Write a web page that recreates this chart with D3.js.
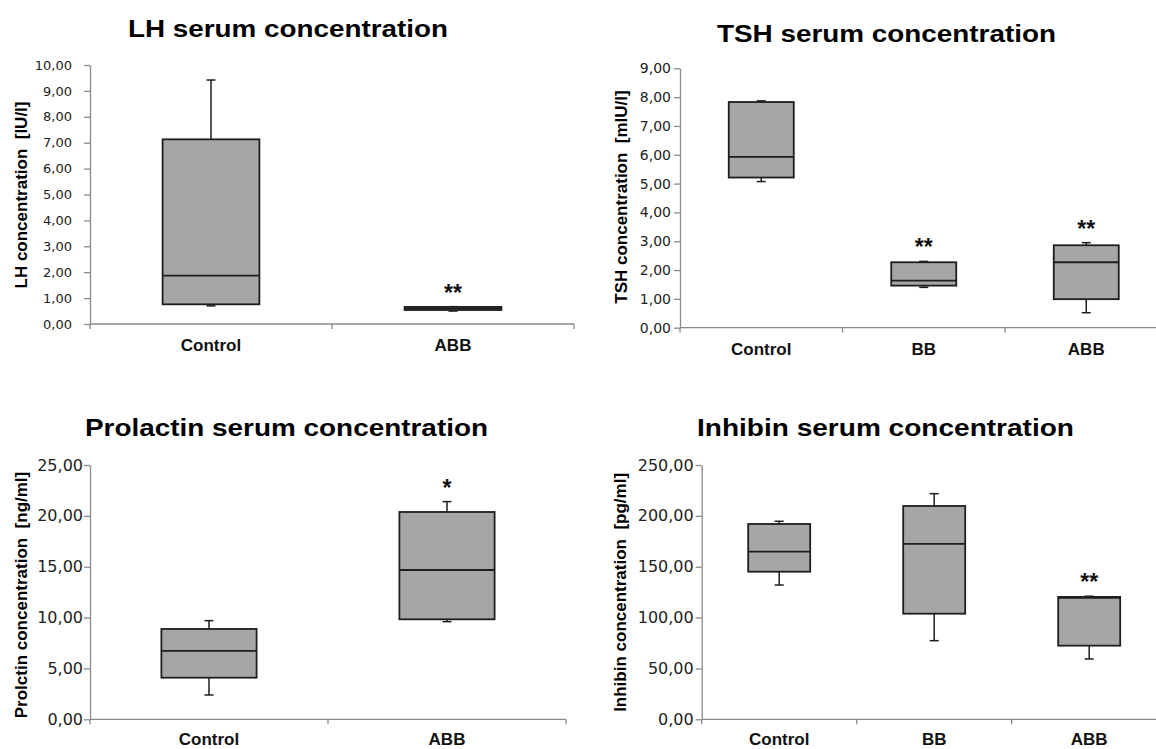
<!DOCTYPE html>
<html>
<head>
<meta charset="utf-8">
<script src="https://cdn.jsdelivr.net/npm/d3@7"></script>
<style>
  body { margin: 0; background: #fff; }
  text { white-space: pre; }
</style>
</head>
<body>
<div id="chart"></div>
<script>
// box stats per group: [min, q1, median, q3, max]
var lhGroups = ["Control", "ABB"];
var lhStats = [[0.70, 0.76, 1.87, 7.13, 9.42], [0.50, 0.54, 0.60, 0.66, 0.67]];
var lhStars = ["", "**"];
var lhTicks = [0, 1, 2, 3, 4, 5, 6, 7, 8, 9, 10];

var tshGroups = ["Control", "BB", "ABB"];
var tshStats = [[5.07, 5.21, 5.93, 7.83, 7.87], [1.40, 1.46, 1.63, 2.27, 2.30], [0.52, 0.99, 2.27, 2.86, 2.95]];
var tshStars = ["", "**", "**"];
var tshTicks = [0, 1, 2, 3, 4, 5, 6, 7, 8, 9];

var prlGroups = ["Control", "ABB"];
var prlStats = [[2.39, 4.09, 6.72, 8.88, 9.70], [9.60, 9.83, 14.68, 20.38, 21.40]];
var prlStars = ["", "*"];
var prlTicks = [0, 5, 10, 15, 20, 25];

var inhGroups = ["Control", "BB", "ABB"];
var inhStats = [[132.0, 145.1, 164.8, 192.0, 194.7], [77.3, 103.8, 172.4, 209.7, 221.8], [59.3, 72.4, 119.5, 120.3, 121.0]];
var inhStars = ["", "", "**"];
var inhTicks = [0, 50, 100, 150, 200, 250];

var svgWidth = 1156;
var svgHeight = 749;

var svg = d3.select("#chart")
  .append("svg")
  .attr("width", svgWidth)
  .attr("height", svgHeight);

var locale = d3.formatLocale({decimal: ",", thousands: ".", grouping: [3], currency: ["", ""]});
var fmt = locale.format(".2f");

var panels = [
  {title: "LH serum concentration", ylabel: "LH concentration  [IU/l]", groups: lhGroups, stats: lhStats, stars: lhStars, ticks: lhTicks,
   x0: 90, band: 242, yTop: 65, yZero: 324, titleX: 288, titleY: 37, titleW: 320, labX: 27, labY: 195, catY: 351, pad: 12, tickFont: 13},
  {title: "TSH serum concentration", ylabel: "TSH concentration  [mIU/l]", groups: tshGroups, stats: tshStats, stars: tshStars, ticks: tshTicks,
   x0: 680, band: 162.5, yTop: 68.3, yZero: 327.7, titleX: 886.5, titleY: 41.5, titleW: 339, labX: 626.5, labY: 197, catY: 355, pad: 3, tickFont: 14},
  {title: "Prolactin serum concentration", ylabel: "Prolctin concentration  [ng/ml]", groups: prlGroups, stats: prlStats, stars: prlStars, ticks: prlTicks,
   x0: 90, band: 238, yTop: 465, yZero: 719.3, titleX: 286.5, titleY: 436, titleW: 403, labX: 26.5, labY: 595, catY: 745, pad: 1, tickFont: 16},
  {title: "Inhibin serum concentration", ylabel: "Inhibin concentration  [pg/ml]", groups: inhGroups, stats: inhStats, stars: inhStars, ticks: inhTicks,
   x0: 701.7, band: 155, yTop: 465, yZero: 719.3, titleX: 885.5, titleY: 436, titleW: 377, labX: 626, labY: 592.4, catY: 745, pad: 2, tickFont: 16}
];

var axisColor = "#8a8a8a";
var lineColor = "#1e1e1e";

panels.forEach(function(p) {
  var g = svg.append("g");

  var x = d3.scaleBand()
    .domain(p.groups)
    .range([p.x0, p.x0 + p.band * p.groups.length])
    .paddingInner(0)
    .paddingOuter(0);

  var y = d3.scaleLinear()
    .domain([0, d3.max(p.ticks)])
    .range([p.yZero, p.yTop]);

  // y axis
  var yAxis = g.append("g")
    .attr("transform", `translate(${p.x0}, 0)`)
    .call(d3.axisLeft(y).tickValues(p.ticks).tickFormat(fmt).tickSizeInner(6).tickSizeOuter(0).tickPadding(p.pad));
  yAxis.select(".domain").attr("stroke", axisColor).attr("stroke-width", 1.3);
  yAxis.selectAll(".tick line").attr("stroke", axisColor).attr("stroke-width", 1.3);
  yAxis.selectAll(".tick text")
    .attr("fill", "#222")
    .attr("font-family", "DejaVu Sans")
    .attr("font-size", p.tickFont);

  // x axis: baseline with ticks at group boundaries
  var bounds = p.groups.map(function(d) { return x(d); }).concat([x.range()[1]]);
  g.append("line")
    .attr("x1", x.range()[0]).attr("x2", x.range()[1])
    .attr("y1", y(0)).attr("y2", y(0))
    .attr("stroke", axisColor).attr("stroke-width", 1.3);
  g.selectAll(".xtick")
    .data(bounds)
    .enter()
    .append("line")
    .attr("x1", d => d).attr("x2", d => d)
    .attr("y1", y(0)).attr("y2", y(0) + 5)
    .attr("stroke", axisColor).attr("stroke-width", 1.3);

  g.selectAll(".cat")
    .data(p.groups)
    .enter()
    .append("text")
    .attr("x", d => x(d) + x.bandwidth() / 2)
    .attr("y", p.catY)
    .attr("text-anchor", "middle")
    .attr("font-family", "Liberation Sans, Arial, sans-serif")
    .attr("font-weight", "bold")
    .attr("font-size", 17)
    .attr("fill", "#111")
    .text(d => d);

  // boxes
  var boxW = x.bandwidth() * 0.4;
  var capW = 9;
  var boxes = g.selectAll(".box")
    .data(p.stats)
    .enter()
    .append("g");

  boxes.each(function(s, i) {
    var cx = x(p.groups[i]) + x.bandwidth() / 2;
    var b = d3.select(this);
    // whiskers
    b.append("line").attr("x1", cx).attr("x2", cx).attr("y1", y(s[4])).attr("y2", y(s[3]))
      .attr("stroke", lineColor).attr("stroke-width", 1.5);
    b.append("line").attr("x1", cx).attr("x2", cx).attr("y1", y(s[1])).attr("y2", y(s[0]))
      .attr("stroke", lineColor).attr("stroke-width", 1.5);
    b.append("line").attr("x1", cx - capW / 2).attr("x2", cx + capW / 2).attr("y1", y(s[4])).attr("y2", y(s[4]))
      .attr("stroke", lineColor).attr("stroke-width", 1.5);
    b.append("line").attr("x1", cx - capW / 2).attr("x2", cx + capW / 2).attr("y1", y(s[0])).attr("y2", y(s[0]))
      .attr("stroke", lineColor).attr("stroke-width", 1.5);
    // box
    b.append("rect")
      .attr("x", cx - boxW / 2)
      .attr("y", y(s[3]))
      .attr("width", boxW)
      .attr("height", y(s[1]) - y(s[3]))
      .attr("fill", "#a6a6a6")
      .attr("stroke", lineColor)
      .attr("stroke-width", 1.8);
    b.append("line").attr("x1", cx - boxW / 2).attr("x2", cx + boxW / 2).attr("y1", y(s[2])).attr("y2", y(s[2]))
      .attr("stroke", lineColor).attr("stroke-width", 1.8);
    // significance stars
    if (p.stars[i]) {
      b.append("text")
        .attr("x", cx)
        .attr("y", y(s[4]) - 18 + 12)
        .attr("text-anchor", "middle")
        .attr("font-family", "Liberation Sans, Arial, sans-serif")
        .attr("font-weight", "bold")
        .attr("font-size", 23)
        .attr("fill", "#111")
        .text(p.stars[i]);
    }
  });

  // title
  g.append("text")
    .attr("x", p.titleX)
    .attr("y", p.titleY)
    .attr("text-anchor", "middle")
    .attr("font-family", "Liberation Sans, Arial, sans-serif")
    .attr("font-weight", "bold")
    .attr("font-size", 23.5)
    .attr("textLength", p.titleW)
    .attr("lengthAdjust", "spacingAndGlyphs")
    .attr("fill", "#000")
    .text(p.title);

  // y label
  g.append("text")
    .attr("transform", `translate(${p.labX}, ${p.labY}) rotate(-90)`)
    .attr("text-anchor", "middle")
    .attr("font-family", "Liberation Sans, Arial, sans-serif")
    .attr("font-weight", "bold")
    .attr("font-size", 17)
    .attr("fill", "#000")
    .text(p.ylabel);
});
</script>
</body>
</html>
